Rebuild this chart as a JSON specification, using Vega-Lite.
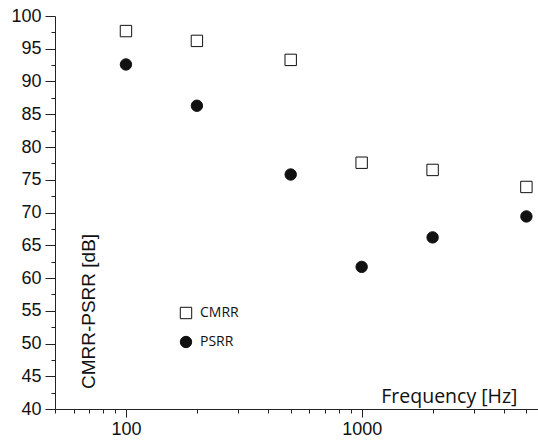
{
  "$schema": "https://vega.github.io/schema/vega-lite/v6.json",
  "width": 483,
  "height": 393,
  "autosize": "none",
  "padding": {"left": 55, "top": 16, "right": 0, "bottom": 35},
  "background": "white",
  "config": {"view": {"stroke": null}, "axis": {"grid": false},
    "legend": {"orient": "none", "legendX": 124, "legendY": 290, "title": null,
      "labelFont": "Open Sans", "labelFontSize": 14, "labelColor": "#111", "labelOffset": 7,
      "rowPadding": 13, "symbolStrokeWidth": 1, "symbolSize": 130, "padding": 0}},
  "data": {
    "values": [
      {"freq": 100, "db": 97.7, "series": "CMRR"},
      {"freq": 200, "db": 96.2, "series": "CMRR"},
      {"freq": 500, "db": 93.3, "series": "CMRR"},
      {"freq": 1000, "db": 77.6, "series": "CMRR"},
      {"freq": 2000, "db": 76.5, "series": "CMRR"},
      {"freq": 5000, "db": 73.9, "series": "CMRR"},
      {"freq": 100, "db": 92.6, "series": "PSRR"},
      {"freq": 200, "db": 86.3, "series": "PSRR"},
      {"freq": 500, "db": 75.8, "series": "PSRR"},
      {"freq": 1000, "db": 61.7, "series": "PSRR"},
      {"freq": 2000, "db": 66.2, "series": "PSRR"},
      {"freq": 5000, "db": 69.4, "series": "PSRR"}
    ]
  },
  "layer": [
    {
      "mark": {"type": "point", "opacity": 0},
      "encoding": {
        "x": {
          "field": "freq", "type": "quantitative",
          "scale": {"type": "log", "domain": [50, 5600], "nice": false},
          "axis": {"orient": "bottom", "values": [50, 60, 70, 80, 90, 200, 300, 400, 500, 600, 700, 800, 900, 2000, 3000, 4000, 5000],
            "labels": false, "domain": false, "tickSize": 4, "tickColor": "#222", "tickWidth": 1, "title": null}
        },
        "y": {
          "field": "db", "type": "quantitative",
          "scale": {"domain": [40, 100], "nice": false, "zero": false},
          "axis": {"orient": "left", "values": [42.5, 47.5, 52.5, 57.5, 62.5, 67.5, 72.5, 77.5, 82.5, 87.5, 92.5, 97.5],
            "labels": false, "domain": false, "tickSize": 4, "tickColor": "#222", "tickWidth": 1, "title": null}
        }
      }
    },
    {
      "mark": {"type": "point", "filled": true, "strokeWidth": 1, "size": 130, "opacity": 1},
      "encoding": {
        "x": {
          "field": "freq", "type": "quantitative",
          "scale": {"type": "log", "domain": [50, 5600], "nice": false},
          "axis": {"orient": "bottom", "values": [100, 1000], "format": "d",
            "domainColor": "#222", "domainWidth": 1, "tickColor": "#222", "tickSize": 8, "tickWidth": 1,
            "labelFont": "Liberation Sans, Arial, sans-serif", "labelFontSize": 18, "labelColor": "#111", "labelPadding": 3,
            "title": "Frequency [Hz]", "titleFont": "Open Sans", "titleFontSize": 19.5, "titleFontWeight": "normal",
            "titleColor": "#111", "titleAlign": "right", "titleBaseline": "alphabetic", "titleX": 462, "titleY": -7}
        },
        "y": {
          "field": "db", "type": "quantitative",
          "scale": {"domain": [40, 100], "nice": false, "zero": false},
          "axis": {"orient": "left", "values": [40, 45, 50, 55, 60, 65, 70, 75, 80, 85, 90, 95, 100],
            "domainColor": "#222", "domainWidth": 1, "tickColor": "#222", "tickSize": 10, "tickWidth": 1,
            "labelFont": "Liberation Sans, Arial, sans-serif", "labelFontSize": 18, "labelColor": "#111", "labelPadding": 4,
            "title": "CMRR-PSRR [dB]", "titleFont": "Liberation Sans, Arial, sans-serif", "titleFontSize": 19, "titleFontWeight": "normal",
            "titleColor": "#111", "titleAngle": 270, "titleAlign": "center", "titleBaseline": "alphabetic",
            "titleX": 39, "titleY": 295}
        },
        "shape": {
          "field": "series", "type": "nominal",
          "scale": {"domain": ["CMRR", "PSRR"], "range": ["square", "circle"]}
        },
        "fill": {
          "field": "series", "type": "nominal",
          "scale": {"domain": ["CMRR", "PSRR"], "range": ["white", "#111"]}
        },
        "stroke": {
          "field": "series", "type": "nominal",
          "scale": {"domain": ["CMRR", "PSRR"], "range": ["#111", "#111"]}
        }
      }
    }
  ],
  "resolve": {"axis": {"x": "independent", "y": "independent"}}
}
